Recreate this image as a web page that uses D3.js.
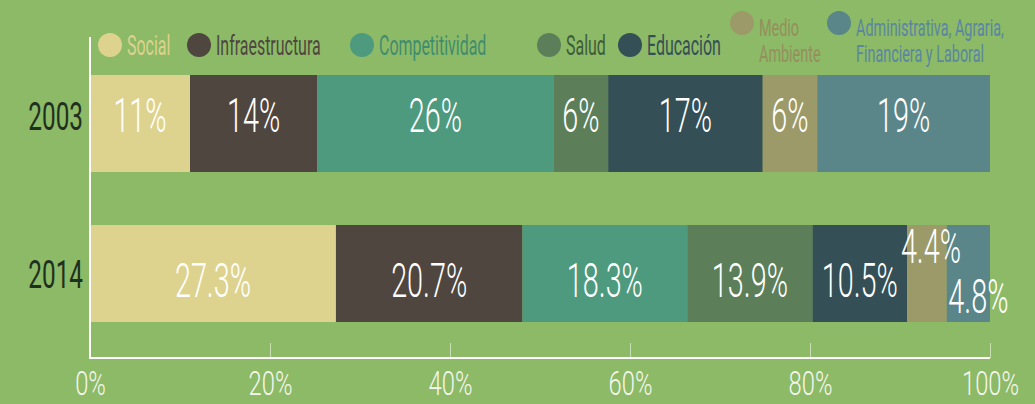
<!DOCTYPE html>
<html>
<head>
<meta charset="utf-8">
<script src="https://cdn.jsdelivr.net/npm/d3@7"></script>
<style>
  body { margin: 0; background: #8cba67; }
  #chart text { font-family: Roboto, sans-serif; font-weight: 300; }
</style>
</head>
<body>
<div id="chart"></div>
<script>
const years = ['2003', '2014'];
const sectors = ['Social', 'Infraestructura', 'Competitividad', 'Salud', 'Educación',
  'Medio Ambiente', 'Administrativa, Agraria, Financiera y Laboral'];
const values2003 = [11, 14, 26, 6, 17, 6, 19];
const values2014 = [27.3, 20.7, 18.3, 13.9, 10.5, 4.4, 4.8];
const tickValues = [0, 20, 40, 60, 80, 100];

const width = 1035, height = 404;
const margin = {top: 70, left: 90, right: 45, bottom: 46};
const innerW = width - margin.left - margin.right;
const innerH = height - margin.top - margin.bottom;

const barColors = ['#ddd38e', '#4f463f', '#4e9a7e', '#5c7f5a', '#344f55', '#9c9a68', '#5a868a'];
const textColors = ['#ddd38e', '#4f463f', '#3f8c70', '#3e5c3a', '#344f55', '#948f5c', '#5a86a0'];
const legendLines = [['Social'], ['Infraestructura'], ['Competitividad'], ['Salud'], ['Educación'],
  ['Medio', 'Ambiente'], ['Administrativa, Agraria,', 'Financiera y Laboral']];
const legendX = [110, 199, 362, 549, 630, 742, 839];

const rows = years.map((yr, i) => {
  const vals = i === 0 ? values2003 : values2014;
  const total = d3.sum(vals);
  let acc = 0;
  return vals.map((v, j) => {
    const d = {year: yr, key: sectors[j], idx: j, value: v, x0: acc / total * 100};
    acc += v;
    d.x1 = acc / total * 100;
    return d;
  });
});

const svg = d3.select('#chart').append('svg')
  .attr('width', width)
  .attr('height', height);

const g = svg.append('g')
  .attr('transform', 'translate(' + margin.left + ',' + margin.top + ')');

const x = d3.scaleLinear().domain([0, 100]).range([0, innerW]);
const y = d3.scaleBand().domain(years).range([5, 252]).paddingInner(53 / 150).paddingOuter(0);

// bars
const rowG = g.selectAll('g.row')
  .data(rows)
  .enter().append('g')
    .attr('class', 'row');

rowG.selectAll('rect')
  .data(d => d)
  .enter().append('rect')
    .attr('x', d => x(d.x0))
    .attr('y', d => y(d.year))
    .attr('width', d => x(d.x1) - x(d.x0))
    .attr('height', y.bandwidth())
    .attr('fill', d => barColors[d.idx]);

// value labels (small ones nudged so they fit)
const nudge = {'2014|5': [4, -34], '2014|6': [10, 16]};
rowG.selectAll('g.lbl')
  .data(d => d)
  .enter().append('g')
    .attr('class', 'lbl')
    .attr('transform', d => {
      const n = nudge[d.year + '|' + d.idx] || [0, 0];
      const cx = (x(d.x0) + x(d.x1)) / 2 + n[0];
      const cy = y(d.year) + y.bandwidth() / 2 + (d.year === '2003' ? 8.5 : 23.5) + n[1];
      return 'translate(' + cx + ',' + cy + ')';
    })
  .append('text')
    .attr('transform', 'scale(0.6,1)')
    .attr('text-anchor', 'middle')
    .attr('fill', '#ffffff')
    .attr('font-size', 48)
    .text(d => d.value + '%');

// year labels
g.selectAll('g.year')
  .data(years)
  .enter().append('g')
    .attr('class', 'year')
    .attr('transform', d => 'translate(-7,' + (y(d) + y.bandwidth() / 2 + (d === '2003' ? 6.5 : 14.5)) + ')')
  .append('text')
    .attr('transform', 'scale(0.64,1)')
    .attr('text-anchor', 'end')
    .attr('fill', '#1f301f')
    .attr('font-size', 38)
    .style('font-weight', 400)
    .text(d => d);

// x axis
const xAxis = g.append('g')
  .attr('transform', 'translate(0,' + innerH + ')')
  .call(d3.axisBottom(x)
    .tickValues(tickValues)
    .tickSize(-15)
    .tickFormat(v => v + '%'));
xAxis.select('.domain').remove();
xAxis.selectAll('.tick line')
  .attr('stroke', '#c9ddb3')
  .attr('stroke-width', 1);
xAxis.selectAll('.tick text')
  .attr('y', 37)
  .attr('dy', 0)
  .attr('transform', 'scale(0.72,1)')
  .attr('fill', '#f6f6ee')
  .attr('font-size', 33)
  .attr('font-family', 'Roboto, sans-serif');

g.append('line')
  .attr('x1', x(0)).attr('x2', x(100))
  .attr('y1', innerH).attr('y2', innerH)
  .attr('stroke', '#ffffff').attr('stroke-width', 2);
g.append('line')
  .attr('x1', x(0)).attr('x2', x(0))
  .attr('y1', -33).attr('y2', innerH + 1)
  .attr('stroke', '#ffffff').attr('stroke-width', 2);

// legend
const legend = svg.append('g')
  .selectAll('g')
  .data(sectors)
  .enter().append('g')
    .attr('transform', (d, i) => 'translate(' + legendX[i] + ',' + (legendLines[i].length > 1 ? 23 : 45) + ')');

legend.append('circle')
  .attr('r', 12)
  .attr('fill', (d, i) => barColors[i]);

legend.each(function(d, i) {
  const multi = legendLines[i].length > 1;
  d3.select(this).selectAll('g.line')
    .data(legendLines[i])
    .enter().append('g')
      .attr('class', 'line')
      .attr('transform', (t, k) => 'translate(17,' + (multi ? 13 + k * 26 : 10) + ')')
    .append('text')
      .attr('transform', multi ? 'scale(0.6,1)' : 'scale(0.57,1)')
      .attr('fill', textColors[i])
      .attr('font-size', multi ? 24 : 28)
      .style('font-weight', 400)
      .text(t => t);
});
</script>
</body>
</html>
